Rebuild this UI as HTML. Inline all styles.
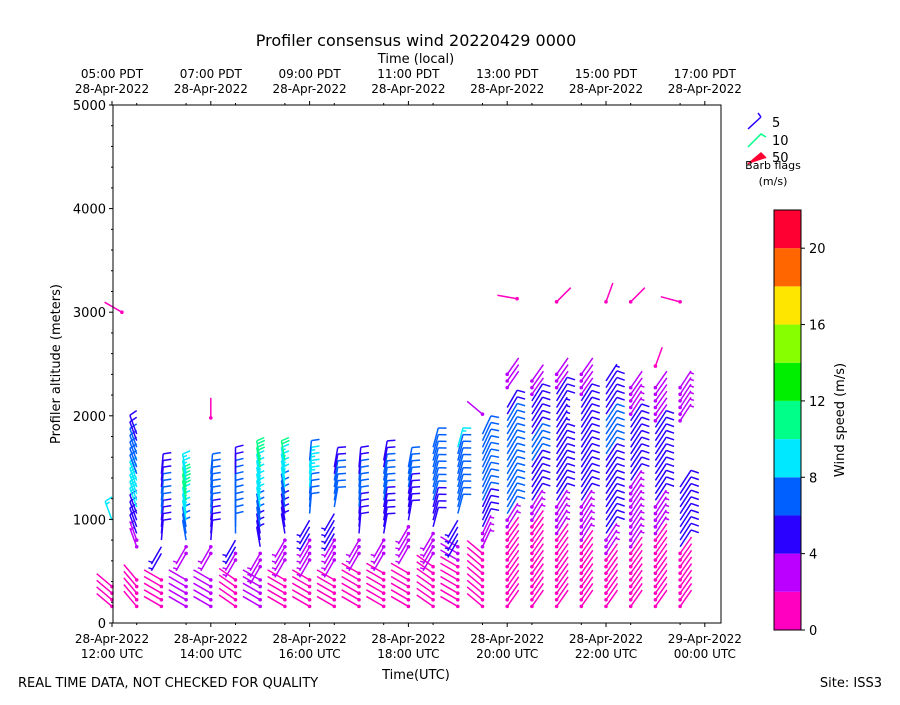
<!DOCTYPE html>
<html><head><meta charset="utf-8"><style>
body{margin:0;background:#fff}
svg text{font-family:"DejaVu Sans","Liberation Sans",sans-serif;fill:#000}
</style></head><body>
<svg id="chart" width="900" height="700" viewBox="0 0 900 700" xmlns="http://www.w3.org/2000/svg">
<rect width="900" height="700" fill="#fff"/>
<text x="416" y="46" font-size="16" text-anchor="middle">Profiler consensus wind 20220429 0000</text>
<text x="416" y="63" font-size="13" text-anchor="middle">Time (local)</text>
<text x="416" y="679" font-size="13" text-anchor="middle">Time(UTC)</text>
<text x="60" y="364" font-size="13" text-anchor="middle" transform="rotate(-90 60 364)">Profiler altitude (meters)</text>
<text x="18" y="687" font-size="13">REAL TIME DATA, NOT CHECKED FOR QUALITY</text>
<text x="882" y="687" font-size="13" text-anchor="end">Site: ISS3</text>
<g id="barbs"></g>
<g id="axes"></g>
<g id="legend">
  <line x1="748" y1="129" x2="761" y2="117" stroke="#2a00ff" stroke-width="1.5"/>
  <line x1="761" y1="117" x2="758" y2="113" stroke="#2a00ff" stroke-width="1.5"/>
  <polyline points="748,147 761,134 766,137" fill="none" stroke="#00ff88" stroke-width="1.5"/>
  <polyline points="748,164 761,153 766,158" fill="#ff0033" stroke="#ff0033" stroke-width="1.5"/>
  <text x="772" y="127" font-size="13">5</text>
  <text x="772" y="145" font-size="13">10</text>
  <text x="772" y="162" font-size="13">50</text>
  <text x="773" y="169" font-size="11" text-anchor="middle">Barb flags</text>
  <text x="773" y="185" font-size="11" text-anchor="middle">(m/s)</text>
</g>
<g id="cbar"></g>
<text x="844" y="420" font-size="13" text-anchor="middle" transform="rotate(-90 844 420)">Wind speed (m/s)</text>
</svg>
<script>
// ---- data ----
const colTimes = [12,12.5,13,13.5,14,14.5,15,15.5,16,16.5,17,17.5,18,18.5,19,19.5,20,20.5,21,21.5,22,22.5,23,23.5];
// run-length speed profiles per column: [speed m/s, number of levels], -1 = missing
const speedRuns = [
 [[1,4],[-1,9],[8,1]],
 [[1,5],[-1,4],[3,2],[5,4],[8,5],[6,5],[5,2]],
 [[1,5],[-1,3],[4,2],[5,4],[7,4],[5,3]],
 [[2,5],[-1,3],[3,2],[6,3],[8,3],[10,3],[8,2]],
 [[2,5],[-1,3],[3,2],[5,4],[6,4],[7,3]],
 [[1,5],[-1,2],[3,2],[4,2],[6,4],[7,5],[5,2]],
 [[2,5],[-1,1],[3,3],[5,3],[6,3],[8,6],[10,2]],
 [[1,5],[-1,2],[3,4],[5,4],[7,3],[9,4],[10,1]],
 [[1,5],[-1,2],[3,4],[4,3],[6,4],[8,4],[6,1]],
 [[1,5],[-1,2],[3,4],[4,4],[6,5],[5,2]],
 [[1,6],[-1,2],[3,3],[5,4],[6,5],[5,2]],
 [[1,6],[-1,2],[3,3],[5,5],[6,5],[5,2]],
 [[1,6],[-1,3],[3,4],[5,5],[6,4]],
 [[1,7],[-1,1],[3,4],[5,4],[6,6],[7,3]],
 [[1,7],[2,3],[4,4],[6,5],[7,5],[9,1]],
 [[1,9],[3,3],[5,4],[7,6],[6,5],[-1,2],[2,1]],
 [[1,12],[3,2],[6,5],[7,6],[6,4],[5,2],[-1,2],[2,3]],
 [[1,13],[3,3],[5,6],[7,4],[5,6],[2,3]],
 [[1,11],[3,5],[5,10],[4,4],[5,3],[2,3]],
 [[1,10],[3,6],[5,16],[2,4]],
 [[1,8],[3,3],[5,12],[7,6],[5,5],[4,1]],
 [[1,9],[3,10],[5,10],[3,3],[2,2]],
 [[1,11],[3,5],[5,12],[2,6]],
 [[1,9],[5,10],[-1,9],[3,6]]
];
// staff angle (deg, clockwise from up) for light (<=2), moderate (3-4) and stronger winds
const lowAngle  = [-50,-40,-60,-60,-60,-55,-60,-60,-60,-60,-60,-60,-60,-55,-60,-50,35,35,35,35,35,35,35,35];
const midAngle  = [-20,-20,-150,-150,-150,-150,-150,-150,-150,-150,-150,-150,-150,-150,-150,25,32,32,32,32,33,33,33,33];
const highAngle = [-20,-20,5,-10,5,0,-10,-10,5,10,5,10,10,15,15,25,30,32,32,32,33,33,33,33];
const extraTimes = [12.2,14.0,20.2,21.0,22.0,22.5,23.5,23.0];
const extraAlts  = [3000,1980,3130,3100,3100,3100,3100,2480];
const extraSpeeds= [1,1,1,1,1,1,1,1];
const extraAngles= [-60,0,-80,45,20,45,-75,20];
const cbarBounds = [0,2,4,6,8,10,12,14,16,18,20,22];
const cbarColors = ["#ff00c0","#bb00ff","#2a00ff","#0060ff","#00e8ff","#00ff88","#00ee00","#88ff00","#ffe600","#ff6600","#ff0033"];
const yTicks = [0,1000,2000,3000,4000,5000];
const xTickHours = [12,14,16,18,20,22,24];
const xTickLabels = ["12:00 UTC","14:00 UTC","16:00 UTC","18:00 UTC","20:00 UTC","22:00 UTC","00:00 UTC"];
const xTickDates = ["28-Apr-2022","28-Apr-2022","28-Apr-2022","28-Apr-2022","28-Apr-2022","28-Apr-2022","29-Apr-2022"];
const topLabels = ["05:00 PDT","07:00 PDT","09:00 PDT","11:00 PDT","13:00 PDT","15:00 PDT","17:00 PDT"];
const cbarTicks = [0,4,8,12,16,20];

// ---- scales ----
const X0=113,X1=721,Y0=623,Y1=105;
const xs = h => 112 + (h-12)*49.4;
const ys = a => Y0 - (a/5000)*(Y0-Y1);
const cs = v => 630 - (v/22)*420;
const NS="http://www.w3.org/2000/svg";
function mk(tag,attrs,parent){const e=document.createElementNS(NS,tag);for(const k in attrs)e.setAttribute(k,attrs[k]);parent.appendChild(e);return e;}
const colorFor = s => cbarColors[Math.min(cbarColors.length-1,Math.floor(s/2))];

const gb=document.getElementById('barbs');
function barb(x,y,s,ang){
  const g=mk('g',{},gb);
  
  
  const c=colorFor(s), r=ang*Math.PI/180, L=20;
  const ux=Math.sin(r), uy=-Math.cos(r), px=-uy, py=ux;
  const tx=x+ux*L, ty=y+uy*L;
  mk('line',{x1:x,y1:y,x2:tx,y2:ty,stroke:c,'stroke-width':1.5},g);
  let full=Math.floor(s/5), half=(s-full*5)>=2.5?1:0, d=0;
  for(let i=0;i<full;i++){const bx=tx-ux*d,by=ty-uy*d;mk('line',{x1:bx,y1:by,x2:bx+px*8+ux*2,y2:by+py*8+uy*2,stroke:c,'stroke-width':1.5},g);d+=3;}
  if(half){if(full===0)d=2;const bx=tx-ux*d,by=ty-uy*d;mk('line',{x1:bx,y1:by,x2:bx+px*4+ux*1,y2:by+py*4+uy*1,stroke:c,'stroke-width':1.5},g);}
  if(s<4) mk('circle',{cx:x,cy:y,r:1.8,fill:c},g);
}
colTimes.forEach((t,ci)=>{
  let lvl=0;
  speedRuns[ci].forEach(([s,n])=>{
    for(let k=0;k<n;k++){
      if(s>=0){const a=160+64*lvl;barb(xs(t),ys(a),s,s<=2?lowAngle[ci]:(s<=4?midAngle[ci]:highAngle[ci]));}
      lvl++;
    }
  });
});
extraTimes.forEach((t,i)=>barb(xs(t),ys(extraAlts[i]),extraSpeeds[i],extraAngles[i]));

// ---- axes ----
const ga=document.getElementById('axes');
mk('rect',{x:X0,y:Y1,width:X1-X0,height:Y0-Y1,fill:'none',stroke:'#000','stroke-width':1},ga);
yTicks.forEach(v=>{const y=ys(v);mk('line',{x1:X0-4,y1:y,x2:X0,y2:y,stroke:'#000'},ga);
  const t=mk('text',{x:X0-7,y:y+5,'font-size':13,'text-anchor':'end'},ga);t.textContent=v;
  });
for(let v=200;v<5000;v+=200){if(v%1000){const y=ys(v);mk('line',{x1:X0-2,y1:y,x2:X0,y2:y,stroke:'#000'},ga);}}
xTickHours.forEach((h,i)=>{const x=xs(h);
  mk('line',{x1:x,y1:Y0,x2:x,y2:Y0+4,stroke:'#000'},ga);
  mk('line',{x1:x,y1:Y1,x2:x,y2:Y1-4,stroke:'#000'},ga);
  const a=mk('text',{x:x,y:643,'font-size':12,'text-anchor':'middle'},ga);a.textContent=xTickDates[i];
  
  const b=mk('text',{x:x,y:658,'font-size':12,'text-anchor':'middle'},ga);b.textContent=xTickLabels[i];
  
  const c=mk('text',{x:x,y:78,'font-size':12,'text-anchor':'middle'},ga);c.textContent=topLabels[i];
  
  const d=mk('text',{x:x,y:93,'font-size':12,'text-anchor':'middle'},ga);d.textContent=xTickDates[i].replace('29','28');
  
});
for(let h=12.5;h<24.3;h+=1){const x=xs(h);mk('line',{x1:x,y1:Y0,x2:x,y2:Y0+2,stroke:'#000'},ga);mk('line',{x1:x,y1:Y1,x2:x,y2:Y1-2,stroke:'#000'},ga);}

// ---- colorbar ----
const gc=document.getElementById('cbar');
cbarColors.forEach((c,i)=>{const y0=cs(cbarBounds[i+1]),y1=cs(cbarBounds[i]);
  const r=mk('rect',{x:774,y:y0,width:27,height:y1-y0,fill:c},gc);
  });
mk('rect',{x:774,y:210,width:27,height:420,fill:'none',stroke:'#000'},gc);
cbarTicks.forEach(v=>{const y=cs(v);mk('line',{x1:801,y1:y,x2:805,y2:y,stroke:'#000'},gc);
  const t=mk('text',{x:809,y:y+5,'font-size':13},gc);t.textContent=v;
  });
</script>
</body></html>
